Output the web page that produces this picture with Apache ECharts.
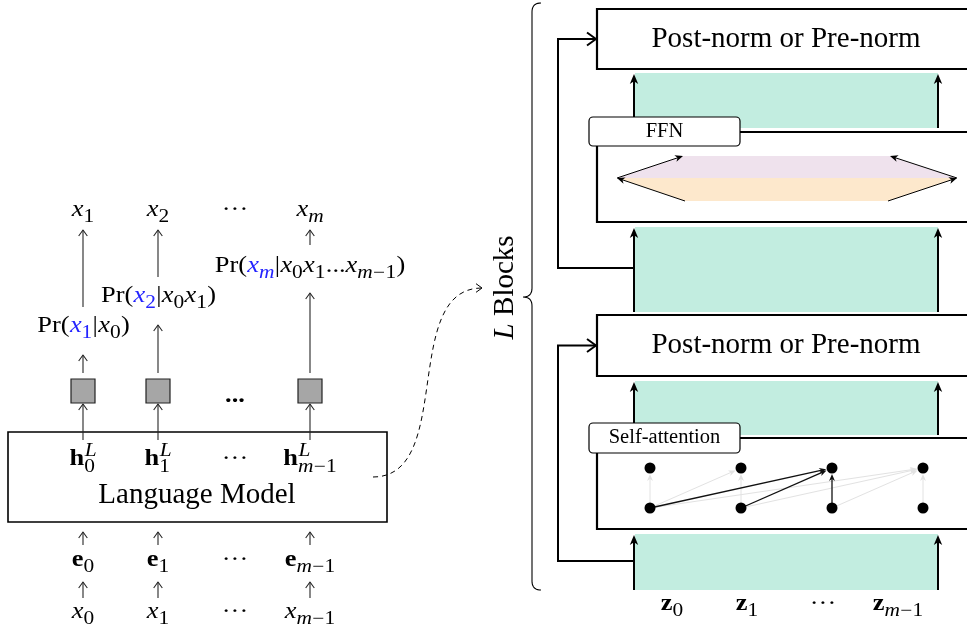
<!DOCTYPE html>
<html><head><meta charset="utf-8">
<script src="https://cdn.jsdelivr.net/npm/echarts@6/dist/echarts.min.js"></script>
<style>html,body{margin:0;padding:0;background:#fff}#c{width:967px;height:628px}</style>
</head><body><div id="c"></div>
<script>
// ---------------- data (diagram content) ----------------
const columnX = [83, 158, 235, 310];
const outputLabels = ['x_1', 'x_2', '\\cdots', 'x_m'];
const probLabels = ['\\R{Pr}(\\C{x_1}|x_0)', '\\R{Pr}(\\C{x_2}|x_0x_1)', '\\R{Pr}(\\C{x_m}|x_0x_1\\ldots x_{m-1})'];
const probColumns = [0, 1, 3];
const hiddenLabels = ['\\B{h}^L_0', '\\B{h}^L_1', '\\cdots', '\\B{h}^L_{m-1}'];
const embedLabels = ['\\B{e}_0', '\\B{e}_1', '\\cdots', '\\B{e}_{m-1}'];
const inputLabels = ['x_0', 'x_1', '\\cdots', 'x_{m-1}'];
const modelLabel = '\\R{Language Model}';
const blockOutLabels = ['\\B{z}_0', '\\B{z}_1', '\\cdots', '\\B{z}_{m-1}'];
const blockOutX = [672, 747, 823, 898];
const normLabel = '\\R{Post-norm or Pre-norm}';
const sublayerLabels = ['\\R{FFN}', '\\R{Self-attention}'];
const stackLabel = 'L\\R{ Blocks}';
const attnNodeX = [650, 741, 832, 923];
const attnRowY = [468, 508];
// [from bottom node, to top node, highlighted]
const attnEdges = [[0,0,0],[0,1,0],[1,1,0],[0,3,0],[1,3,0],[2,3,0],[3,3,0],[0,2,1],[1,2,1],[2,2,1]];

// ---------------- layout / style ----------------
const TEAL = '#c2ede0', LAV = '#efe2ed', PEACH = '#fde8cc', INK = '#000', THIN = '#262626', BLUE = '#2424ff';
const MATH = 24, BIG = 29, LBL = 20.5, MSX = 1.1;
const K = 0.3375;

// tiny TeX-like parser
function parseTex(s, st) {
  const out = []; let i = 0;
  function group() {
    if (s[i] === '{') { let d = 1, j = i + 1; while (j < s.length && d) { if (s[j] === '{') d++; else if (s[j] === '}') d--; j++; }
      const g = s.slice(i + 1, j - 1); i = j; return g; }
    return s[i++];
  }
  while (i < s.length) {
    const c = s[i];
    if (c === '\\') {
      const m = /^\\([A-Za-z]+)/.exec(s.slice(i)); i += m[0].length; const cmd = m[1];
      if (cmd === 'cdots' || cmd === 'ldots') {
        while (s[i] === ' ') i++;
        out.push({ t: cmd === 'cdots' ? '\u00B7\u00B7\u00B7' : '...', b: !!st.b, it: false, col: st.col, up: true });
      } else {
        const g = group(); const ns = Object.assign({}, st);
        if (cmd === 'B') { ns.b = true; ns.up = true; } else if (cmd === 'R') { ns.up = true; } else if (cmd === 'C') { ns.col = BLUE; }
        parseTex(g, ns).forEach(a => out.push(a));
      }
    } else if (c === '_' || c === '^') {
      i++; const g = group(); const last = out[out.length - 1];
      last[c === '_' ? 'sub' : 'sup'] = parseTex(g, Object.assign({}, st, { b: false, up: false }));
    } else {
      i++; const letter = /[A-Za-z]/.test(c);
      out.push({ t: (!st.up && c === '-') ? '\u2212' : c, b: !!st.b, it: letter && !st.up, col: st.col, up: !!st.up });
    }
  }
  return out;
}
const mctx = document.createElement('canvas').getContext('2d');
function fnt(a, size) { return (a.it ? 'italic ' : '') + (a.b ? 'bold ' : '') + size.toFixed(2) + 'px "Liberation Serif"'; }
function mw(t, a, size) { mctx.font = fnt(a, size); return mctx.measureText(t).width; }
function layout(atoms, S, sx, lvl) {
  let x = 0; const pcs = []; let lastGap = 0;
  const mySx = lvl ? sx * 1.08 : sx;
  atoms.forEach(a => {
    const w = mw(a.t, a, S) * mySx;
    pcs.push({ t: a.t, a: a, size: S, dx: x, dy: 0, sx: mySx });
    const ss = S * 0.75; const both = a.sub && a.sup; let ext = 0;
    if (a.sup) { const L = layout(a.sup, ss, sx, 1); L.pcs.forEach(p => pcs.push(Object.assign({}, p, { dx: x + w + p.dx + (a.it ? 1 : 0.5), dy: p.dy - S * (both ? 0.42 : 0.38) }))); ext = Math.max(ext, L.width + 0.5); }
    if (a.sub) { const L = layout(a.sub, ss, sx, 1); L.pcs.forEach(p => pcs.push(Object.assign({}, p, { dx: x + w + p.dx, dy: p.dy + S * (both ? 0.26 : 0.2) }))); ext = Math.max(ext, L.width); }
    lastGap = a.up ? 0 : 0.3;
    x += w + ext + lastGap;
  });
  return { width: x - lastGap, pcs: pcs };
}
function texEls(tex, px, py, S, sx) {
  const L = layout(parseTex(tex, {}), S, sx, 0);
  const x0 = px - L.width / 2;
  return L.pcs.map(p => ({
    type: 'text', x: x0 + p.dx, y: py + K * S + p.dy - K * p.size, scaleX: p.sx,
    style: { text: p.t, font: fnt(p.a, p.size), fill: p.a.col || '#000', textAlign: 'left', textVerticalAlign: 'middle' }
  }));
}

// ---------------- build primitives ----------------
const shapes = [];
const add = o => shapes.push(o);
const BL = { left: 597, right: 995, bandL: 635, bandR: 938, res: 558, labL: 589, labR: 740 };
const normSpans = [[9, 69], [315, 376]];
const upperBands = [[73, 128], [381, 435]];
const subSpans = [[132, 222], [438, 529]];
const labSpans = [[117, 146], [423, 453]];
const lowerBands = [[227, 312], [534, 590]];
const residualY = [268, 561];

// right: blocks
for (let b = 0; b < 2; b++) {
  [upperBands[b], lowerBands[b]].forEach(sp => {
    add({ k: 'rect', x1: BL.bandL, y1: sp[0], x2: BL.bandR, y2: sp[1], fill: TEAL });
    add({ k: 'line', pts: [[BL.bandL - 1, sp[1]], [BL.bandL - 1, sp[0] + 1]], stroke: INK, lw: 2, head: 'fill', hs: 10 });
    add({ k: 'line', pts: [[BL.bandR, sp[1]], [BL.bandR, sp[0] + 1]], stroke: INK, lw: 2, head: 'fill', hs: 10 });
  });
  add({ k: 'rect', x1: BL.left, y1: normSpans[b][0], x2: BL.right, y2: normSpans[b][1], fill: '#fff', stroke: INK, lw: 2.2 });
  add({ k: 'text', tex: normLabel, x: 786, y: (normSpans[b][0] + normSpans[b][1]) / 2, size: BIG, sx: 1 });
  add({ k: 'rect', x1: BL.left, y1: subSpans[b][0], x2: BL.right, y2: subSpans[b][1], fill: '#fff', stroke: INK, lw: 2.2 });
  add({ k: 'line', pts: [[BL.bandL - 1, residualY[b]], [BL.res, residualY[b]], [BL.res, (normSpans[b][0] + normSpans[b][1]) / 2], [BL.left - 1, (normSpans[b][0] + normSpans[b][1]) / 2]], stroke: INK, lw: 2, head: 'open', hs: 9 });
}
// FFN internals
add({ k: 'poly', pts: [[683, 156], [890, 156], [957, 178], [617, 178]], fill: LAV });
add({ k: 'poly', pts: [[617, 178], [957, 178], [888, 201], [685, 201]], fill: PEACH });
add({ k: 'line', pts: [[685, 201], [617, 178]], stroke: INK, lw: 1, head: 'fill', hs: 8 });
add({ k: 'line', pts: [[617, 178], [683, 156]], stroke: INK, lw: 1, head: 'fill', hs: 8 });
add({ k: 'line', pts: [[888, 201], [957, 178]], stroke: INK, lw: 1, head: 'fill', hs: 8 });
add({ k: 'line', pts: [[957, 178], [890, 156]], stroke: INK, lw: 1, head: 'fill', hs: 8 });
// attention edges
attnEdges.forEach(e => {
  const x0 = attnNodeX[e[0]], y0 = attnRowY[1], x1 = attnNodeX[e[1]], y1 = attnRowY[0];
  const dx = x1 - x0, dy = y1 - y0, L = Math.hypot(dx, dy);
  const s0 = e[0] === e[1] ? 5 : 0;
  add({ k: 'line', pts: [[x0 + dx / L * s0, y0 + dy / L * s0], [x1 - dx / L * 6, y1 - dy / L * 6]], stroke: e[2] ? '#111' : '#e2e2e2', lw: e[2] ? 1.3 : 1, head: 'fill', hs: 7 });
});
// labels of sublayers
for (let b = 0; b < 2; b++) {
  add({ k: 'rect', x1: BL.labL, y1: labSpans[b][0], x2: BL.labR, y2: labSpans[b][1], fill: '#fff', stroke: INK, lw: 1.2, r: 4 });
  add({ k: 'text', tex: sublayerLabels[b], x: 664.5, y: (labSpans[b][0] + labSpans[b][1]) / 2, size: LBL, sx: 1 });
}
blockOutLabels.forEach((t, i) => add({ k: 'text', tex: t, x: blockOutX[i], y: 604, size: MATH, sx: MSX }));
// brace + rotated label
add({ k: 'brace', x: 532, y1: 3, ym: 297, y2: 590, tip: 523, hook: 541 });
add({ k: 'text', tex: stackLabel, x: 505, y: 287.5, size: BIG, rot: Math.PI / 2, sx: 1 });

// left: language model
add({ k: 'rect', x1: 8, y1: 432, x2: 387, y2: 522, fill: '#fff', stroke: INK, lw: 1.6 });
add({ k: 'text', tex: modelLabel, x: 197, y: 495.5, size: BIG, sx: 1 });
const preTop = [355, 325, 0, 293], postBottom = [307, 277, 0, 245];
[0, 1, 3].forEach(i => {
  const x = columnX[i];
  add({ k: 'line', pts: [[x, 440], [x, 404]], stroke: THIN, lw: 1.1, head: 'open', hs: 6 });
  add({ k: 'rect', x1: x - 12, y1: 379, x2: x + 12, y2: 403, fill: '#a6a6a6', stroke: '#222', lw: 1.2 });
  add({ k: 'line', pts: [[x, 373], [x, preTop[i]]], stroke: THIN, lw: 1.1, head: 'open', hs: 6 });
  add({ k: 'line', pts: [[x, postBottom[i]], [x, 230]], stroke: THIN, lw: 1.1, head: 'open', hs: 6 });
  add({ k: 'line', pts: [[x, 545], [x, 532]], stroke: THIN, lw: 1.1, head: 'open', hs: 6 });
  add({ k: 'line', pts: [[x, 598], [x, 582]], stroke: THIN, lw: 1.1, head: 'open', hs: 6 });
});
outputLabels.forEach((t, i) => add({ k: 'text', tex: t, x: columnX[i], y: 210, size: MATH, sx: MSX }));
const probY = [326, 296, 266];
probLabels.forEach((t, i) => add({ k: 'text', tex: t, x: columnX[probColumns[i]] + (i === 2 ? 0 : 0.5), y: probY[i], size: MATH, sx: MSX }));
add({ k: 'text', tex: '\\B{...}', x: columnX[2], y: 396, size: MATH, sx: MSX });
hiddenLabels.forEach((t, i) => add({ k: 'text', tex: t, x: columnX[i], y: 459, size: MATH, sx: MSX }));
embedLabels.forEach((t, i) => add({ k: 'text', tex: t, x: columnX[i], y: 560, size: MATH, sx: MSX }));
inputLabels.forEach((t, i) => add({ k: 'text', tex: t, x: columnX[i], y: 612, size: MATH, sx: MSX }));
// dashed connector
add({ k: 'bez', pts: [[373, 477], [455, 477], [400, 288], [482, 288]], stroke: INK, lw: 1, dash: [5, 4], head: 'open', hs: 6 });

// ---------------- rendering ----------------
function head(tip, from, type, size, color, lw) {
  const dx = tip[0] - from[0], dy = tip[1] - from[1], L = Math.hypot(dx, dy) || 1, ux = dx / L, uy = dy / L, px = -uy, py = ux;
  if (type === 'open') {
    const w = size * 0.72;
    return { type: 'polyline', shape: { points: [[tip[0] - ux * size + px * w, tip[1] - uy * size + py * w], tip, [tip[0] - ux * size - px * w, tip[1] - uy * size - py * w]] }, style: { stroke: color, lineWidth: lw, fill: 'none', lineJoin: 'round' } };
  }
  const w = size * 0.42, back = size * 0.72;
  return { type: 'polygon', shape: { points: [tip, [tip[0] - ux * size + px * w, tip[1] - uy * size + py * w], [tip[0] - ux * back, tip[1] - uy * back], [tip[0] - ux * size - px * w, tip[1] - uy * size - py * w]] }, style: { fill: color } };
}
function renderItem(params, api) {
  const s = shapes[params.dataIndex];
  const P = p => api.coord(p);
  if (s.k === 'rect') {
    const a = P([s.x1, s.y1]), b = P([s.x2, s.y2]);
    return { type: 'rect', shape: { x: a[0], y: a[1], width: b[0] - a[0], height: b[1] - a[1], r: s.r || 0 }, style: { fill: s.fill || 'none', stroke: s.stroke || 'none', lineWidth: s.lw || 0 } };
  }
  if (s.k === 'poly') return { type: 'polygon', shape: { points: s.pts.map(P) }, style: { fill: s.fill } };
  if (s.k === 'line') {
    const pts = s.pts.map(P); const n = pts.length; const tip = pts[n - 1], prev = pts[n - 2];
    const ch = [];
    const line = pts.slice();
    if (s.head === 'fill') { const dx = tip[0] - prev[0], dy = tip[1] - prev[1], L = Math.hypot(dx, dy); line[n - 1] = [tip[0] - dx / L * s.hs * 0.6, tip[1] - dy / L * s.hs * 0.6]; }
    ch.push({ type: 'polyline', shape: { points: line }, style: { stroke: s.stroke, lineWidth: s.lw, fill: 'none', lineDash: s.dash || null } });
    if (s.head) ch.push(head(tip, prev, s.head, s.hs, s.stroke, s.lw));
    return { type: 'group', children: ch };
  }
  if (s.k === 'bez') {
    const p = s.pts.map(P);
    return { type: 'group', children: [
      { type: 'bezierCurve', shape: { x1: p[0][0], y1: p[0][1], cpx1: p[1][0], cpy1: p[1][1], cpx2: p[2][0], cpy2: p[2][1], x2: p[3][0], y2: p[3][1] }, style: { stroke: s.stroke, lineWidth: s.lw, fill: 'none', lineDash: s.dash } },
      head(p[3], p[2], s.head, s.hs, s.stroke, s.lw)
    ] };
  }
  if (s.k === 'brace') {
    const pts = [];
    const quad = (a, c, b) => { for (let t = 0; t <= 1.0001; t += 0.1) { pts.push(P([(1 - t) * (1 - t) * a[0] + 2 * t * (1 - t) * c[0] + t * t * b[0], (1 - t) * (1 - t) * a[1] + 2 * t * (1 - t) * c[1] + t * t * b[1]])); } };
    const r = 9;
    quad([s.hook, s.y1], [s.x, s.y1], [s.x, s.y1 + r]);
    quad([s.x, s.ym - r], [s.x, s.ym], [s.tip, s.ym]);
    quad([s.tip, s.ym], [s.x, s.ym], [s.x, s.ym + r]);
    quad([s.x, s.y2 - r], [s.x, s.y2], [s.hook, s.y2]);
    return { type: 'polyline', shape: { points: pts }, style: { stroke: INK, lineWidth: 1.1, fill: 'none' } };
  }
  if (s.k === 'text') {
    const c = P([s.x, s.y]);
    if (s.rot) return { type: 'group', x: c[0], y: c[1], rotation: s.rot, children: texEls(s.tex, 0, 0, s.size, s.sx) };
    return { type: 'group', children: texEls(s.tex, c[0], c[1], s.size, s.sx) };
  }
  return null;
}

const nodeData = [];
attnRowY.forEach(y => attnNodeX.forEach(x => nodeData.push([x, y])));

const chart = echarts.init(document.getElementById('c'), null, { renderer: 'canvas' });
chart.setOption({
  animation: false,
  backgroundColor: '#fff',
  grid: { left: 0, right: 0, top: 0, bottom: 0 },
  xAxis: { type: 'value', min: 0, max: 967, show: false },
  yAxis: { type: 'value', min: 0, max: 628, inverse: true, show: false },
  series: [
    { type: 'custom', silent: true, renderItem: renderItem, data: shapes.map((s, i) => [i, i]), z: 2 },
    { type: 'scatter', silent: true, data: nodeData, symbolSize: 11, itemStyle: { color: '#000', opacity: 1 }, z: 5 }
  ]
});
</script></body></html>
